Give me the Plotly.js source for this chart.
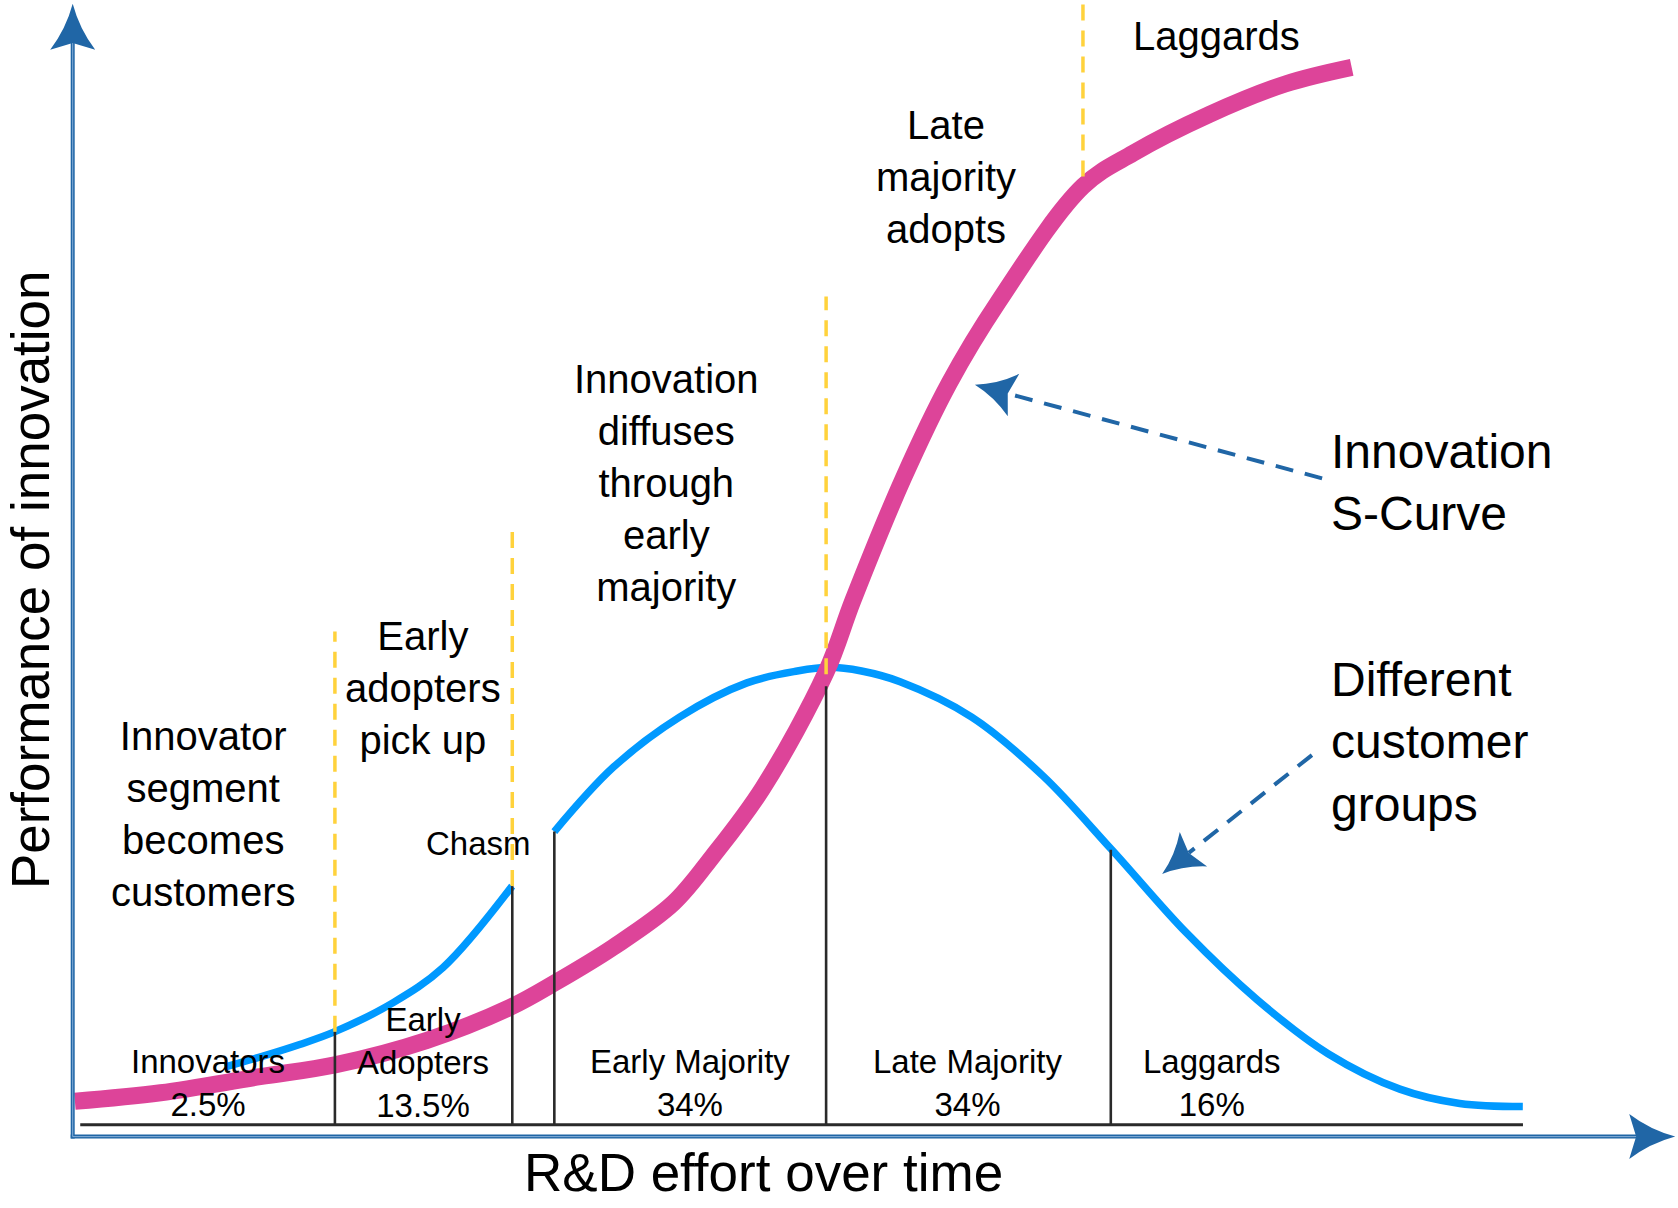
<!DOCTYPE html>
<html>
<head>
<meta charset="utf-8">
<script src="https://cdn.plot.ly/plotly-3.0.1.min.js"></script>
<style>
html,body{margin:0;padding:0;background:#ffffff;}
#chart{width:1678px;height:1208px;}
</style>
</head>
<body>
<div id="chart"></div>
<script>
// ---------- data (diagram units: x = R&D effort over time, y = performance) ----------
const sCurveX = [0.15, 6.06, 12.92, 18.08, 24.43, 30.19, 33.28, 37.27, 41.40, 44.13, 47.60, 51.95, 53.80, 57.27, 60.44, 63.83, 69.66, 73.13, 78.37, 83.61, 88.19];
const sCurveY = [2.09, 2.85, 4.28, 5.33, 7.51, 10.46, 12.65, 15.79, 19.69, 23.88, 29.97, 40.25, 46.62, 57.47, 65.94, 73.17, 83.44, 86.39, 89.82, 92.53, 94.01];

// adoption bell curve, before the chasm
const earlyGroupX = [10.48, 13.07, 15.65, 18.08, 22.07, 25.54, 30.30];
const earlyGroupY = [5.13, 6.09, 7.14, 8.28, 10.84, 13.98, 21.22];
// adoption bell curve, after the chasm
const mainGroupX = [33.21, 37.27, 41.84, 46.49, 49.96, 52.17, 54.39, 57.05, 61.99, 66.90, 71.65, 76.75, 81.66, 86.56, 91.51, 95.64, 99.99];
const mainGroupY = [26.07, 31.78, 36.25, 39.29, 40.34, 40.67, 40.34, 39.39, 36.25, 31.02, 24.45, 17.12, 11.13, 6.32, 3.17, 1.90, 1.62];

// customer segments
const segmentNames  = ['Innovators', 'Early<br>Adopters', 'Early Majority', 'Late Majority', 'Laggards'];
const segmentShares = ['2.5%', '13.5%', '34%', '34%', '16%'];
const segmentLabelX = [9.33, 24.12, 42.58, 61.70, 78.59];
const segmentLabelY = [3.76, 5.54, 3.76, 3.76, 3.76];
const boundaryX   = [18.08, 30.31, 33.21, 51.95, 71.58];
const boundaryTop = [8.28, 21.22, 26.07, 39.0, 24.45];
const baselineX = [0.52, 100];

// adoption phases (dashed yellow markers)
const phaseLineX      = [18.08, 30.31, 51.95, 69.66];
const phaseLineBottom = [8.28, 21.22, 40.06, 84.30];
const phaseLineTop    = [43.86, 53.38, 73.64, 100];
const phaseTexts = ['Innovator<br>segment<br>becomes<br>customers', 'Early<br>adopters<br>pick up',
                    'Innovation<br>diffuses<br>through<br>early<br>majority', 'Late<br>majority<br>adopts', 'Laggards'];
const phaseTextX = [9.05, 24.13, 40.96, 60.22, 78.89];
const phaseTextY = [27.63, 38.83, 57.09, 84.24, 96.76];

const chasmLabel = {text: 'Chasm', x: 27.97, y: 25.01};

// callouts
const calloutTexts = ['Innovation<br>S-Curve', 'Different<br>customer<br>groups'];
const calloutTextX = [86.62, 86.62];
const calloutTextY = [57.10, 34.03];
const calloutFrom = [[86.15, 57.47], [85.45, 32.87]];
const calloutTo   = [[62.21, 65.80], [75.12, 22.29]];

// axes
const axisOrigin = [0, -1.05];
const xAxisTip = [110.5, -1.05];
const yAxisTip = [0, 99.66];
const xAxisTitle = {text: 'R&D effort over time', x: 47.60, y: -4.20};
const yAxisTitle = {text: 'Performance of innovation', x: -2.94, y: 48.43};

// ---------- layout geometry ----------
const W = 1678, H = 1208;
const XR = [-5.013, 110.69], YR = [-7.397, 100];
const KX = W / (XR[1] - XR[0]), KY = H / (YR[1] - YR[0]);
const FONT = 'Liberation Sans, Arial, Helvetica, sans-serif';
const AXIS_BLUE = '#2066a6';

function toPx(p) { return [(p[0] - XR[0]) * KX, (YR[1] - p[1]) * KY]; }
function toData(q) { return [q[0] / KX + XR[0], YR[1] - q[1] / KY]; }
function arrowHead(tip, from, len, wid, notch) {
  const t = toPx(tip), f = toPx(from);
  let ux = t[0] - f[0], uy = t[1] - f[1];
  const d = Math.hypot(ux, uy); ux /= d; uy /= d;
  const nx = -uy, ny = ux;
  const P = (a, b) => toData([t[0] + a * ux + b * nx, t[1] + a * uy + b * ny]);
  const w1 = P(-len, wid / 2), w2 = P(-len, -wid / 2), bk = P(-len * (1 - notch), 0);
  const c1 = P(-len * 0.55, wid * 0.15), c2 = P(-len * 0.55, -wid * 0.15);
  const T = tip;
  const path = `M${T[0]},${T[1]} Q${c1[0]},${c1[1]} ${w1[0]},${w1[1]} L${bk[0]},${bk[1]} L${w2[0]},${w2[1]} Q${c2[0]},${c2[1]} ${T[0]},${T[1]} Z`;
  return {path: path, back: bk};
}

const traces = [];
const shapes = [];
const annotations = [];

// bell curve (blue)
traces.push({x: earlyGroupX, y: earlyGroupY, mode: 'lines', line: {color: '#0099ff', width: 7.5, shape: 'spline'}, hoverinfo: 'skip'});
traces.push({x: mainGroupX, y: mainGroupY, mode: 'lines', line: {color: '#0099ff', width: 7.5, shape: 'spline'}, hoverinfo: 'skip'});
// S-curve (pink)
traces.push({x: sCurveX, y: sCurveY, mode: 'lines', line: {color: '#dd4499', width: 17, shape: 'spline'}, hoverinfo: 'skip'});

// segment boundaries and baseline
const bx = [], by = [];
boundaryX.forEach((v, i) => { bx.push(v, v, null); by.push(0, boundaryTop[i], null); });
traces.push({x: bx, y: by, mode: 'lines', line: {color: '#2a2a2a', width: 2.6}, hoverinfo: 'skip'});
traces.push({x: baselineX, y: [0, 0], mode: 'lines', line: {color: '#2a2a2a', width: 3}, hoverinfo: 'skip'});

// phase markers (yellow dashed)
const px = [], py = [];
phaseLineX.forEach((v, i) => { px.push(v, v, null); py.push(phaseLineBottom[i], phaseLineTop[i], null); });
traces.push({x: px, y: py, mode: 'lines', line: {color: '#ffd23c', width: 3.5, dash: '16px,10px'}, hoverinfo: 'skip'});

// axes with arrow heads
const yHead = arrowHead(yAxisTip, axisOrigin, 46, 45, 0.15);
const xHead = arrowHead(xAxisTip, axisOrigin, 46, 45, 0.15);
const ext = 2 / KY, extx = 2 / KX;
traces.push({x: [axisOrigin[0], yHead.back[0]], y: [axisOrigin[1] - ext, yHead.back[1]], mode: 'lines', line: {color: AXIS_BLUE, width: 4}, hoverinfo: 'skip'});
traces.push({x: [axisOrigin[0] - extx, xHead.back[0]], y: [axisOrigin[1], xHead.back[1]], mode: 'lines', line: {color: AXIS_BLUE, width: 4}, hoverinfo: 'skip'});
traces.push({x: [axisOrigin[0], yHead.back[0]], y: [axisOrigin[1], yHead.back[1]], mode: 'lines', line: {color: '#9fc0e3', width: 0.8}, hoverinfo: 'skip'});
traces.push({x: [axisOrigin[0], xHead.back[0]], y: [axisOrigin[1], xHead.back[1]], mode: 'lines', line: {color: '#9fc0e3', width: 0.8}, hoverinfo: 'skip'});
[yHead, xHead].forEach(h => shapes.push({type: 'path', xref: 'x', yref: 'y', path: h.path, fillcolor: AXIS_BLUE, line: {width: 0}, layer: 'above'}));

// callouts: dashed arrows + text
calloutTexts.forEach((t, i) => {
  const h = arrowHead(calloutTo[i], calloutFrom[i], 40, 44, 0.15);
  traces.push({x: [calloutFrom[i][0], h.back[0]], y: [calloutFrom[i][1], h.back[1]], mode: 'lines', line: {color: AXIS_BLUE, width: 4, dash: '18px,12px'}, hoverinfo: 'skip'});
  shapes.push({type: 'path', xref: 'x', yref: 'y', path: h.path, fillcolor: AXIS_BLUE, line: {width: 0}, layer: 'above'});
  annotations.push({x: calloutTextX[i], y: calloutTextY[i], xref: 'x', yref: 'y', text: t, showarrow: false,
    xanchor: 'left', yanchor: 'middle', align: 'left', font: {family: FONT, size: 48, color: '#000'}});
});

// phase texts
phaseTexts.forEach((t, i) => annotations.push({x: phaseTextX[i], y: phaseTextY[i], xref: 'x', yref: 'y', text: t,
  showarrow: false, xanchor: 'center', yanchor: 'middle', align: 'center', font: {family: FONT, size: 40, color: '#000'}}));

// segment labels
segmentNames.forEach((n, i) => annotations.push({x: segmentLabelX[i], y: segmentLabelY[i], xref: 'x', yref: 'y',
  text: n + '<br>' + segmentShares[i], showarrow: false, xanchor: 'center', yanchor: 'middle', align: 'center',
  font: {family: FONT, size: 33, color: '#000'}}));

annotations.push({x: chasmLabel.x, y: chasmLabel.y, xref: 'x', yref: 'y', text: chasmLabel.text, showarrow: false,
  xanchor: 'center', yanchor: 'middle', font: {family: FONT, size: 33, color: '#000'}});

// axis titles
annotations.push({x: xAxisTitle.x, y: xAxisTitle.y, xref: 'x', yref: 'y', text: xAxisTitle.text, showarrow: false,
  xanchor: 'center', yanchor: 'middle', font: {family: FONT, size: 53, color: '#000'}});
annotations.push({x: yAxisTitle.x, y: yAxisTitle.y, xref: 'x', yref: 'y', text: yAxisTitle.text, showarrow: false,
  textangle: -90, xanchor: 'center', yanchor: 'middle', font: {family: FONT, size: 53, color: '#000'}});

const layout = {
  width: W, height: H,
  margin: {l: 0, r: 0, t: 0, b: 0, pad: 0},
  paper_bgcolor: '#ffffff', plot_bgcolor: '#ffffff',
  showlegend: false,
  hovermode: false,
  xaxis: {range: XR, visible: false, fixedrange: true, showgrid: false, zeroline: false},
  yaxis: {range: YR, visible: false, fixedrange: true, showgrid: false, zeroline: false},
  shapes: shapes,
  annotations: annotations
};

Plotly.newPlot('chart', traces, layout, {staticPlot: true, displayModeBar: false});
</script>
</body>
</html>
